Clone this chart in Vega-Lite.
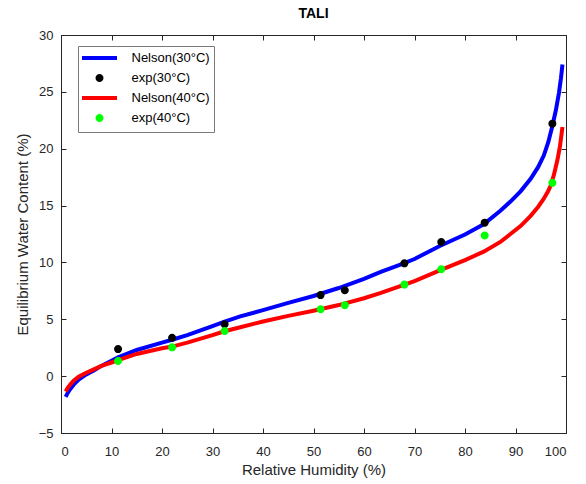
{
  "$schema": "https://vega.github.io/schema/vega-lite/v6.json",
  "autosize": "none",
  "width": 505,
  "height": 398,
  "padding": {"left": 61, "top": 35, "right": 20, "bottom": 51},
  "background": "white",
  "title": {"text": "TALI", "font": "Liberation Sans", "fontSize": 14, "fontWeight": "bold", "color": "#000000", "offset": 8},
  "config": {
    "view": {"stroke": "#262626", "strokeWidth": 1},
    "axis": {
      "domainColor": "#262626", "tickColor": "#262626", "labelColor": "#262626", "titleColor": "#262626",
      "labelFont": "Liberation Sans", "titleFont": "Liberation Sans", "labelFontSize": 13, "titleFontSize": 15,
      "titleFontWeight": "normal", "grid": false, "tickSize": -5, "domainWidth": 1, "tickWidth": 1
    },
    "legend": {
      "orient": "none", "legendX": 17, "legendY": 11, "padding": 4,
      "strokeColor": "#7a7a7a", "fillColor": "white",
      "labelFont": "Liberation Sans", "labelFontSize": 13, "labelColor": "#000000",
      "symbolSize": 144, "symbolStrokeWidth": 4, "symbolOpacity": 1, "symbolOffset": 9.5,
      "rowPadding": 2, "labelOffset": 24
    }
  },
  "layer": [
    {
      "data": {"values": [
        {"rh": 0.93, "emc": -1.82, "series": "Nelson(30°C)"},
        {"rh": 1.3, "emc": -1.5, "series": "Nelson(30°C)"},
        {"rh": 1.8, "emc": -1.15, "series": "Nelson(30°C)"},
        {"rh": 2.5, "emc": -0.75, "series": "Nelson(30°C)"},
        {"rh": 3.5, "emc": -0.3, "series": "Nelson(30°C)"},
        {"rh": 5, "emc": 0.15, "series": "Nelson(30°C)"},
        {"rh": 6.5, "emc": 0.5, "series": "Nelson(30°C)"},
        {"rh": 8, "emc": 0.9, "series": "Nelson(30°C)"},
        {"rh": 10, "emc": 1.35, "series": "Nelson(30°C)"},
        {"rh": 11.3, "emc": 1.65, "series": "Nelson(30°C)"},
        {"rh": 15, "emc": 2.3, "series": "Nelson(30°C)"},
        {"rh": 20, "emc": 2.95, "series": "Nelson(30°C)"},
        {"rh": 22, "emc": 3.2, "series": "Nelson(30°C)"},
        {"rh": 25, "emc": 3.6, "series": "Nelson(30°C)"},
        {"rh": 30, "emc": 4.4, "series": "Nelson(30°C)"},
        {"rh": 32.4, "emc": 4.8, "series": "Nelson(30°C)"},
        {"rh": 35.5, "emc": 5.25, "series": "Nelson(30°C)"},
        {"rh": 40, "emc": 5.8, "series": "Nelson(30°C)"},
        {"rh": 45, "emc": 6.45, "series": "Nelson(30°C)"},
        {"rh": 50, "emc": 7.05, "series": "Nelson(30°C)"},
        {"rh": 55, "emc": 7.75, "series": "Nelson(30°C)"},
        {"rh": 60, "emc": 8.55, "series": "Nelson(30°C)"},
        {"rh": 63.2, "emc": 9.15, "series": "Nelson(30°C)"},
        {"rh": 67.2, "emc": 9.8, "series": "Nelson(30°C)"},
        {"rh": 70, "emc": 10.3, "series": "Nelson(30°C)"},
        {"rh": 75, "emc": 11.45, "series": "Nelson(30°C)"},
        {"rh": 80, "emc": 12.45, "series": "Nelson(30°C)"},
        {"rh": 83.7, "emc": 13.35, "series": "Nelson(30°C)"},
        {"rh": 87, "emc": 14.55, "series": "Nelson(30°C)"},
        {"rh": 89, "emc": 15.35, "series": "Nelson(30°C)"},
        {"rh": 91, "emc": 16.25, "series": "Nelson(30°C)"},
        {"rh": 93, "emc": 17.35, "series": "Nelson(30°C)"},
        {"rh": 94.5, "emc": 18.4, "series": "Nelson(30°C)"},
        {"rh": 95.6, "emc": 19.4, "series": "Nelson(30°C)"},
        {"rh": 96.5, "emc": 20.6, "series": "Nelson(30°C)"},
        {"rh": 97.3, "emc": 22.0, "series": "Nelson(30°C)"},
        {"rh": 98, "emc": 23.4, "series": "Nelson(30°C)"},
        {"rh": 98.6, "emc": 24.9, "series": "Nelson(30°C)"},
        {"rh": 99.0, "emc": 26.2, "series": "Nelson(30°C)"},
        {"rh": 99.3, "emc": 27.4, "series": "Nelson(30°C)"},
        {"rh": 0.93, "emc": -1.35, "series": "Nelson(40°C)"},
        {"rh": 1.3, "emc": -1.05, "series": "Nelson(40°C)"},
        {"rh": 1.8, "emc": -0.75, "series": "Nelson(40°C)"},
        {"rh": 2.5, "emc": -0.4, "series": "Nelson(40°C)"},
        {"rh": 3.5, "emc": -0.05, "series": "Nelson(40°C)"},
        {"rh": 5, "emc": 0.3, "series": "Nelson(40°C)"},
        {"rh": 6.5, "emc": 0.6, "series": "Nelson(40°C)"},
        {"rh": 8, "emc": 0.9, "series": "Nelson(40°C)"},
        {"rh": 10, "emc": 1.2, "series": "Nelson(40°C)"},
        {"rh": 11.3, "emc": 1.4, "series": "Nelson(40°C)"},
        {"rh": 15, "emc": 1.95, "series": "Nelson(40°C)"},
        {"rh": 20, "emc": 2.45, "series": "Nelson(40°C)"},
        {"rh": 22, "emc": 2.6, "series": "Nelson(40°C)"},
        {"rh": 25, "emc": 2.95, "series": "Nelson(40°C)"},
        {"rh": 30, "emc": 3.6, "series": "Nelson(40°C)"},
        {"rh": 32.4, "emc": 3.95, "series": "Nelson(40°C)"},
        {"rh": 35.5, "emc": 4.3, "series": "Nelson(40°C)"},
        {"rh": 40, "emc": 4.8, "series": "Nelson(40°C)"},
        {"rh": 45, "emc": 5.3, "series": "Nelson(40°C)"},
        {"rh": 50, "emc": 5.75, "series": "Nelson(40°C)"},
        {"rh": 55, "emc": 6.25, "series": "Nelson(40°C)"},
        {"rh": 60, "emc": 6.85, "series": "Nelson(40°C)"},
        {"rh": 63.2, "emc": 7.3, "series": "Nelson(40°C)"},
        {"rh": 67.2, "emc": 7.92, "series": "Nelson(40°C)"},
        {"rh": 70, "emc": 8.35, "series": "Nelson(40°C)"},
        {"rh": 75, "emc": 9.3, "series": "Nelson(40°C)"},
        {"rh": 80, "emc": 10.2, "series": "Nelson(40°C)"},
        {"rh": 83.7, "emc": 10.95, "series": "Nelson(40°C)"},
        {"rh": 87, "emc": 11.8, "series": "Nelson(40°C)"},
        {"rh": 89, "emc": 12.5, "series": "Nelson(40°C)"},
        {"rh": 91, "emc": 13.2, "series": "Nelson(40°C)"},
        {"rh": 93, "emc": 14.1, "series": "Nelson(40°C)"},
        {"rh": 94.5, "emc": 14.9, "series": "Nelson(40°C)"},
        {"rh": 95.6, "emc": 15.6, "series": "Nelson(40°C)"},
        {"rh": 96.5, "emc": 16.3, "series": "Nelson(40°C)"},
        {"rh": 97, "emc": 16.8, "series": "Nelson(40°C)"},
        {"rh": 97.6, "emc": 17.7, "series": "Nelson(40°C)"},
        {"rh": 98.3, "emc": 19.0, "series": "Nelson(40°C)"},
        {"rh": 98.8, "emc": 20.2, "series": "Nelson(40°C)"},
        {"rh": 99.3, "emc": 21.9, "series": "Nelson(40°C)"}
      ]},
      "mark": {"type": "line", "strokeWidth": 4},
      "encoding": {
        "x": {"field": "rh", "type": "quantitative", "scale": {"domain": [0, 100], "nice": false, "zero": false},
              "axis": {"orient": "bottom", "title": "Relative Humidity (%)", "values": [0,10,20,30,40,50,60,70,80,90,100], "labelPadding": 17, "titlePadding": 4}},
        "y": {"field": "emc", "type": "quantitative", "scale": {"domain": [-5, 30], "nice": false, "zero": false},
              "axis": {"orient": "left", "title": "Equilibrium Water Content (%)", "values": [-5,0,5,10,15,20,25,30], "labelPadding": 13, "titlePadding": 8}},
        "color": {"field": "series", "type": "nominal",
                  "scale": {"domain": ["Nelson(30°C)", "exp(30°C)", "Nelson(40°C)", "exp(40°C)"], "range": ["#0000ff", "#000000", "#ff0000", "#00ff00"]},
                  "legend": {"title": null}}
      }
    },
    {
      "data": {"values": [
        {"rh": 11.3, "emc": 2.38, "series": "exp(30°C)"},
        {"rh": 22.0, "emc": 3.37, "series": "exp(30°C)"},
        {"rh": 32.4, "emc": 4.56, "series": "exp(30°C)"},
        {"rh": 51.4, "emc": 7.13, "series": "exp(30°C)"},
        {"rh": 56.2, "emc": 7.55, "series": "exp(30°C)"},
        {"rh": 68.0, "emc": 9.92, "series": "exp(30°C)"},
        {"rh": 75.3, "emc": 11.8, "series": "exp(30°C)"},
        {"rh": 83.9, "emc": 13.5, "series": "exp(30°C)"},
        {"rh": 97.3, "emc": 22.2, "series": "exp(30°C)"},
        {"rh": 11.3, "emc": 1.33, "series": "exp(40°C)"},
        {"rh": 22.0, "emc": 2.53, "series": "exp(40°C)"},
        {"rh": 32.4, "emc": 3.97, "series": "exp(40°C)"},
        {"rh": 51.4, "emc": 5.88, "series": "exp(40°C)"},
        {"rh": 56.2, "emc": 6.24, "series": "exp(40°C)"},
        {"rh": 68.0, "emc": 8.05, "series": "exp(40°C)"},
        {"rh": 75.3, "emc": 9.4, "series": "exp(40°C)"},
        {"rh": 83.9, "emc": 12.37, "series": "exp(40°C)"},
        {"rh": 97.3, "emc": 17.0, "series": "exp(40°C)"}
      ]},
      "mark": {"type": "point", "filled": false, "size": 144, "strokeWidth": 4, "opacity": 1},
      "encoding": {
        "x": {"field": "rh", "type": "quantitative",
              "axis": {"orient": "top", "title": null, "labels": false, "values": [0,10,20,30,40,50,60,70,80,90,100]}},
        "y": {"field": "emc", "type": "quantitative",
              "axis": {"orient": "right", "title": null, "labels": false, "values": [-5,0,5,10,15,20,25,30]}},
        "color": {"field": "series", "type": "nominal"},
        "shape": {"field": "series", "type": "nominal",
                  "scale": {"domain": ["Nelson(30°C)", "exp(30°C)", "Nelson(40°C)", "exp(40°C)"],
                            "range": ["M-2.9167,0H2.9167", "M-0.3333,0A0.3333,0.3333 0 1,1 0.3333,0A0.3333,0.3333 0 1,1 -0.3333,0Z", "M-2.9167,0H2.9167", "M-0.3333,0A0.3333,0.3333 0 1,1 0.3333,0A0.3333,0.3333 0 1,1 -0.3333,0Z"]},
                  "legend": {"title": null}}
      }
    }
  ],
  "resolve": {"axis": {"x": "independent", "y": "independent"}}
}
